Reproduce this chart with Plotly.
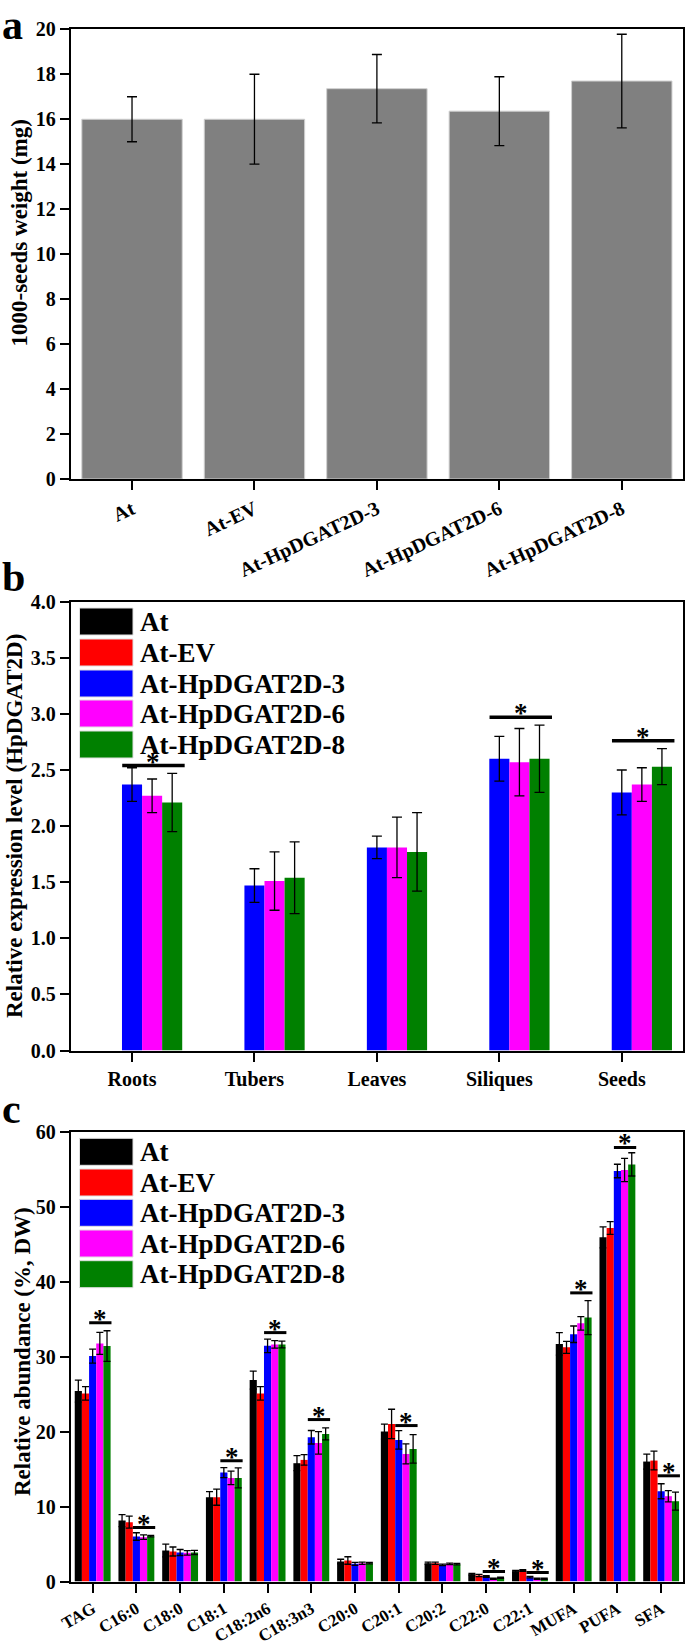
import plotly.graph_objects as go
from plotly.subplots import make_subplots

FONT = "Liberation Serif"

# panel a - 1000-seeds weight
a_lines = ["At", "At-EV", "At-HpDGAT2D-3", "At-HpDGAT2D-6", "At-HpDGAT2D-8"]
a_weight = [16.0, 16.0, 17.36, 16.36, 17.70]
a_err = [1.0, 2.0, 1.52, 1.53, 2.08]

# panel b - relative expression of HpDGAT2D
b_tissues = ["Roots", "Tubers", "Leaves", "Siliques", "Seeds"]
b_at = [0, 0, 0, 0, 0]
b_ev = [0, 0, 0, 0, 0]
b_l3 = [2.37, 1.47, 1.81, 2.60, 2.30]
b_l6 = [2.27, 1.51, 1.81, 2.57, 2.37]
b_l8 = [2.21, 1.54, 1.77, 2.60, 2.53]
b_l3_err = [0.15, 0.15, 0.10, 0.20, 0.20]
b_l6_err = [0.15, 0.26, 0.27, 0.30, 0.15]
b_l8_err = [0.26, 0.32, 0.35, 0.30, 0.16]
b_sig_idx = [0, 3, 4]
b_sig_y = [2.54, 2.97, 2.76]

# panel c - fatty acid composition
c_fa = ["TAG", "C16:0", "C18:0", "C18:1", "C18:2n6", "C18:3n3", "C20:0",
        "C20:1", "C20:2", "C22:0", "C22:1", "MUFA", "PUFA", "SFA"]
c_at = [25.4, 8.13, 4.13, 11.24, 26.87, 15.78, 2.67, 20.0, 2.44, 0.98, 1.38, 31.69, 45.91, 16.0]
c_ev = [25.09, 7.91, 4.0, 11.24, 25.09, 16.22, 2.8, 21.02, 2.44, 0.8, 1.47, 31.24, 47.16, 16.13]
c_l3 = [30.07, 6.0, 3.87, 14.53, 31.44, 19.24, 2.36, 18.89, 2.22, 0.67, 0.58, 32.98, 54.76, 12.04]
c_l6 = [31.76, 5.91, 3.82, 13.82, 31.62, 18.49, 2.44, 17.02, 2.36, 0.36, 0.36, 34.44, 54.89, 11.38]
c_l8 = [31.4, 6.04, 3.87, 13.82, 31.62, 19.69, 2.44, 17.69, 2.31, 0.49, 0.36, 35.2, 55.64, 10.71]
c_at_err = [1.47, 0.8, 0.85, 0.75, 1.2, 1.0, 0.3, 1.0, 0.15, 0.1, 0.1, 1.5, 1.4, 1.0]
c_ev_err = [0.9, 0.8, 0.6, 1.07, 0.9, 0.7, 0.5, 1.96, 0.15, 0.15, 0.1, 0.8, 0.85, 1.25]
c_l3_err = [0.93, 0.5, 0.4, 0.67, 0.9, 0.9, 0.2, 1.24, 0.1, 0.1, 0.1, 1.1, 0.9, 1.0]
c_l6_err = [1.47, 0.3, 0.3, 0.89, 0.5, 1.5, 0.15, 1.33, 0.1, 0.08, 0.08, 0.9, 1.55, 0.75]
c_l8_err = [2.05, 0.1, 0.27, 1.33, 0.45, 0.8, 0.1, 1.9, 0.1, 0.08, 0.08, 2.27, 1.55, 1.2]
c_sig_idx = [0, 1, 3, 4, 5, 7, 9, 10, 11, 12, 13]
c_sig_y = [34.5, 7.2, 16.1, 33.2, 21.6, 20.8, 1.33, 1.2, 38.5, 57.9, 14.1]

colors = ["#000000", "#ff0000", "#0000ff", "#ff00ff", "#008000"]

W, H = 685, 1648
def px(p):
    return p / W
def py(p):
    return 1 - p / H

fig = make_subplots(rows=3, cols=1)

# a
fig.add_trace(go.Bar(x=a_lines, y=a_weight, marker_color="#808080",
                     marker_line=dict(color="#d0d0d0", width=1),
                     error_y=dict(type="data", array=a_err, color="black", thickness=1.3, width=5),
                     showlegend=False), row=1, col=1)

# b
b_vals = [b_at, b_ev, b_l3, b_l6, b_l8]
b_errs = [None, None, b_l3_err, b_l6_err, b_l8_err]
for i in range(5):
    err = dict(visible=False) if b_errs[i] is None else dict(
        type="data", array=b_errs[i], color="black", thickness=1.3, width=5)
    fig.add_trace(go.Bar(x=b_tissues, y=b_vals[i], name=a_lines[i], marker_color=colors[i],
                         marker_line_width=0, error_y=err, showlegend=False), row=2, col=1)

# c
c_vals = [c_at, c_ev, c_l3, c_l6, c_l8]
c_errs = [c_at_err, c_ev_err, c_l3_err, c_l6_err, c_l8_err]
for i in range(5):
    fig.add_trace(go.Bar(x=c_fa, y=c_vals[i], name=a_lines[i], marker_color=colors[i],
                         marker_line_width=0,
                         error_y=dict(type="data", array=c_errs[i], color="black", thickness=1.3, width=3.5),
                         showlegend=False), row=3, col=1)

tickfont = dict(family=FONT, size=20, color="black", weight="bold")
ax = dict(showline=True, linecolor="black", linewidth=2, mirror=True, ticks="outside",
          ticklen=9, tickwidth=2, tickcolor="black", showgrid=False, zeroline=False,
          tickfont=tickfont, automargin=False)

xdom = [px(70.8), px(683)]
fig.update_layout(
    xaxis=dict(ax, domain=xdom, anchor="y", tickangle=-25, range=[-0.5, 4.5]),
    yaxis=dict(ax, domain=[py(479), py(29.3)], anchor="x", range=[0, 20], dtick=2),
    xaxis2=dict(ax, domain=xdom, anchor="y2", tickangle=0, range=[-0.5, 4.5]),
    yaxis2=dict(ax, domain=[py(1050.5), py(601.7)], anchor="x2", range=[0, 4], dtick=0.5,
                tickformat=".1f"),
    xaxis3=dict(ax, domain=xdom, anchor="y3", tickangle=-30, range=[-0.5, 13.5],
                tickfont=dict(tickfont, size=17)),
    yaxis3=dict(ax, domain=[py(1581.5), py(1131.7)], anchor="x3", range=[0, 60], dtick=10),
    barmode="group", bargap=0.18, bargroupgap=0,
    width=W, height=H, margin=dict(l=0, r=0, t=0, b=0),
    paper_bgcolor="white", plot_bgcolor="white",
    font=dict(family=FONT, color="black"),
)

shapes = []
annotations = []

# significance bars
for xr, yr, idx, ys, lw in [("x2", "y2", b_sig_idx, b_sig_y, 3.5), ("x3", "y3", c_sig_idx, c_sig_y, 3)]:
    for k, y in zip(idx, ys):
        shapes.append(dict(type="line", xref=xr, yref=yr, x0=k - 0.08, x1=k + 0.43, y0=y, y1=y,
                           line=dict(color="black", width=lw)))
        annotations.append(dict(xref=xr, yref=yr, x=k + 0.175, y=y, text="<b>*</b>", showarrow=False,
                                yanchor="middle", yshift=4, font=dict(family=FONT, size=27, color="black")))

# legends for b and c
for tops in [[608, 639, 670, 700, 731], [1138.3, 1169, 1199.3, 1230, 1260.7]]:
    for i, t in enumerate(tops):
        shapes.append(dict(type="rect", xref="paper", yref="paper", x0=px(79.5), x1=px(133),
                           y0=py(t + 27), y1=py(t), fillcolor=colors[i],
                           line=dict(color="#e0e0e0", width=1)))
        annotations.append(dict(xref="paper", yref="paper", x=px(138), y=py(t + 13.5), text=a_lines[i],
                                showarrow=False, xanchor="left", yanchor="middle",
                                font=dict(family=FONT, size=27, color="black", weight="bold")))

# axis titles
for txt, xc, yc in [("1000-seeds weight (mg)", 18.5, 233),
                    ("Relative expression level (HpDGAT2D)", 14, 826),
                    ("Relative abundance (%, DW)", 22, 1352)]:
    annotations.append(dict(xref="paper", yref="paper", x=px(xc), y=py(yc), text=txt, textangle=-90,
                            showarrow=False, xanchor="center", yanchor="middle",
                            font=dict(family=FONT, size=23, color="black", weight="bold")))

# panel letters
for txt, ytop in [("a", 0), ("b", 552), ("c", 1084)]:
    annotations.append(dict(xref="paper", yref="paper", x=0, y=py(ytop), text=txt, showarrow=False,
                            xanchor="left", yanchor="top",
                            font=dict(family=FONT, size=42, color="black", weight="bold")))

fig.update_layout(shapes=shapes, annotations=annotations)
fig.write_html("out.html", config={"displayModeBar": False},
               post_script="document.body.style.margin='0';")
